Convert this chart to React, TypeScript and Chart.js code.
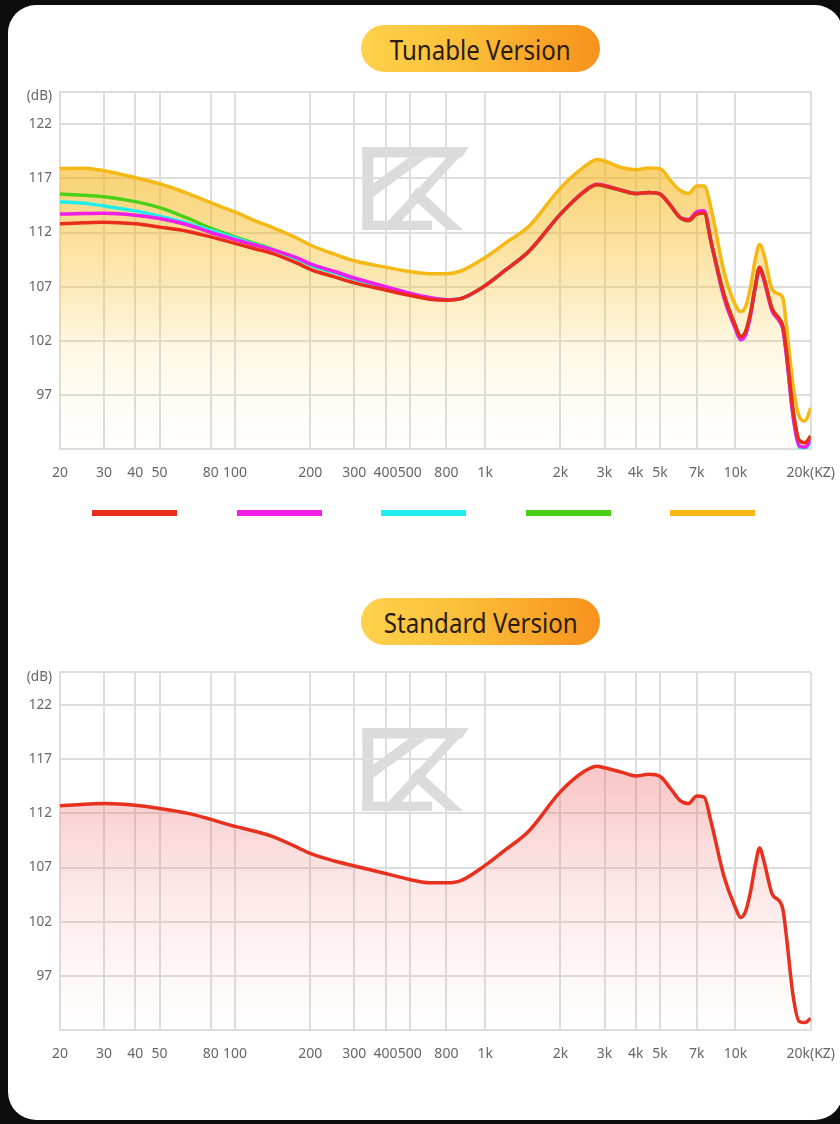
import React, { useEffect, useRef } from 'react';
import { Chart, registerables } from 'chart.js';

Chart.register(...registerables);

// Frequency points (Hz)
const FREQS = [20, 25, 30, 40, 50, 65, 80, 100, 120, 140, 180, 200, 250, 300, 400, 500, 600, 700, 800, 1000, 1200, 1500, 2000, 2500, 2800, 3000, 3500, 4000, 4500, 5000, 5500, 6000, 6500, 7000, 7500, 8000, 9000, 10000, 10500, 11000, 11500, 12000, 12500, 13000, 14000, 15000, 15500, 16000, 17000, 18000, 19000, 20000];

// Tunable version (dB)
const RED = [112.8, 112.9, 112.95, 112.8, 112.5, 112.1, 111.6, 111.0, 110.5, 110.1, 109.1, 108.6, 107.9, 107.35, 106.7, 106.2, 105.85, 105.75, 105.9, 107.1, 108.5, 110.3, 113.7, 115.8, 116.4, 116.3, 115.9, 115.6, 115.7, 115.55, 114.5, 113.4, 113.1, 113.7, 113.8, 111.1, 106.3, 103.4, 102.4, 102.9, 104.6, 107.0, 108.8, 107.8, 105.0, 104.0, 103.3, 101.0, 95.6, 92.8, 92.6, 93.2];
const MAGENTA = [113.7, 113.75, 113.78, 113.6, 113.3, 112.7, 112.0, 111.35, 110.85, 110.45, 109.6, 109.1, 108.4, 107.8, 107.0, 106.4, 106.0, 105.8, 105.9, 107.1, 108.5, 110.3, 113.7, 115.85, 116.45, 116.35, 115.9, 115.6, 115.7, 115.55, 114.5, 113.4, 113.2, 113.9, 114.0, 111.1, 106.0, 103.1, 102.1, 102.6, 104.4, 106.9, 108.6, 107.6, 104.8, 103.8, 103.0, 100.6, 95.0, 92.3, 92.2, 92.9];
const CYAN = [114.85, 114.7, 114.45, 114.0, 113.5, 112.85, 112.2, 111.5, 110.9, 110.45, 109.5, 109.0, 108.3, 107.7, 106.95, 106.35, 105.95, 105.8, 105.9, 107.1, 108.5, 110.3, 113.7, 115.8, 116.4, 116.3, 115.9, 115.6, 115.7, 115.55, 114.5, 113.4, 113.1, 113.8, 113.9, 111.1, 106.1, 103.2, 102.2, 102.7, 104.5, 106.9, 108.7, 107.7, 104.9, 103.9, 103.1, 100.7, 95.2, 92.2, 92.0, 92.8];
const GREEN = [115.55, 115.45, 115.3, 114.85, 114.3, 113.3, 112.4, 111.6, 111.0, 110.5, 109.5, 109.0, 108.3, 107.7, 106.95, 106.3, 105.9, 105.8, 105.9, 107.1, 108.5, 110.3, 113.7, 115.8, 116.4, 116.3, 115.9, 115.6, 115.7, 115.55, 114.5, 113.4, 113.1, 113.7, 113.8, 111.1, 106.3, 103.4, 102.4, 102.9, 104.6, 107.0, 108.8, 107.8, 105.0, 104.0, 103.3, 101.0, 95.6, 92.8, 92.6, 93.2];
const YELLOW = [117.9, 117.93, 117.7, 117.06, 116.5, 115.6, 114.76, 113.9, 113.1, 112.5, 111.4, 110.85, 110.0, 109.4, 108.8, 108.4, 108.2, 108.2, 108.45, 109.7, 111.0, 112.6, 116.1, 118.1, 118.75, 118.6, 118.0, 117.8, 117.95, 117.9, 116.8, 115.9, 115.6, 116.3, 116.3, 114.2, 108.4, 105.3, 104.7, 105.2, 107.0, 109.5, 110.9, 110.0, 106.8, 106.3, 105.9, 103.4, 97.9, 95.0, 94.6, 95.8];

// Standard version (dB)
const STANDARD = [112.7, 112.85, 112.9, 112.75, 112.45, 112.0, 111.45, 110.8, 110.35, 109.9, 108.8, 108.3, 107.6, 107.15, 106.45, 105.9, 105.6, 105.6, 105.8, 107.2, 108.6, 110.4, 114.0, 115.9, 116.35, 116.2, 115.8, 115.45, 115.6, 115.4, 114.3, 113.2, 112.9, 113.6, 113.5, 111.2, 106.2, 103.3, 102.4, 103.0, 104.8, 107.2, 108.8, 107.6, 104.6, 103.9, 103.1, 100.6, 95.2, 92.8, 92.7, 93.1];

const SERIES_NAMES = ['Tuning 1', 'Tuning 2', 'Tuning 3', 'Tuning 4', 'Tuning 5'];
const SERIES_COLORS = ['#ea2c1b', '#f01ee6', '#20eeee', '#4ccf17', '#f5b814'];

const X_TICKS = [20, 30, 40, 50, 80, 100, 200, 300, 400, 500, 700, 1000, 2000, 3000, 4000, 5000, 7000, 10000, 20000];
const X_TICK_LABELS = ['20', '30', '40', '50', '80', '100', '200', '300', '400', '500', '800', '1k', '2k', '3k', '4k', '5k', '7k', '10k', '20k(KZ)'];
const Y_TICKS = [92, 97, 102, 107, 112, 117, 122, 124.6, 125];
const Y_TICK_LABELS = ['', '97', '102', '107', '112', '117', '122', '(dB)', ''];

const TITLES = ['Tunable Version', 'Standard Version'];

const GRID = '#dddddd';
const FONT = "'Noto Sans', 'DejaVu Sans', sans-serif";
const CANVAS_W = 850;
const CANVAS_H = 421;

function series(values: number[]) {
  return FREQS.map((f, i) => ({ x: f, y: values[i] }));
}

function gradientFill(stops: [number, string][]) {
  return (ctx: any) => {
    const chart = ctx.chart;
    const area = chart.chartArea;
    if (!area) return 'rgba(0,0,0,0)';
    const g = chart.ctx.createLinearGradient(0, area.top, 0, area.bottom);
    stops.forEach(([o, c]) => g.addColorStop(o, c));
    return g;
  };
}

function buildOptions(padTop: number): any {
  return {
    responsive: false,
    animation: false,
    events: [],
    layout: { padding: { top: padTop, right: 0, bottom: 0, left: 0 } },
    plugins: { legend: { display: false }, tooltip: { enabled: false }, title: { display: false } },
    elements: {
      point: { radius: 0, hoverRadius: 0 },
      line: { borderWidth: 3.5, cubicInterpolationMode: 'monotone', capStyle: 'round', joinStyle: 'round' },
    },
    scales: {
      x: {
        type: 'logarithmic',
        min: 20,
        max: 20000,
        afterBuildTicks: (s: any) => {
          s.ticks = X_TICKS.map((v) => ({ value: v }));
        },
        ticks: {
          autoSkip: false,
          maxRotation: 0,
          minRotation: 0,
          padding: 15,
          color: '#666',
          font: { family: FONT, size: 14 },
          callback: (_v: any, i: number) => X_TICK_LABELS[i],
        },
        grid: { color: GRID, lineWidth: 2, drawTicks: false },
        border: { color: GRID, width: 2 },
      },
      y: {
        type: 'linear',
        min: 92,
        max: 125,
        afterBuildTicks: (s: any) => {
          s.ticks = Y_TICKS.map((v) => ({ value: v }));
        },
        afterFit: (s: any) => {
          s.width = 60;
        },
        ticks: {
          padding: 8,
          color: '#666',
          font: { family: FONT, size: 13.5 },
          callback: (_v: any, i: number) => Y_TICK_LABELS[i],
        },
        grid: {
          color: (c: any) => (c.tick && c.tick.value === 124.6 ? 'rgba(0,0,0,0)' : GRID),
          lineWidth: 2,
          drawTicks: false,
        },
        border: { color: GRID, width: 2 },
      },
    },
  };
}

function FrChart({ datasets, top, padTop }: { datasets: any[]; top: number; padTop: number }) {
  const ref = useRef<HTMLCanvasElement>(null);
  useEffect(() => {
    const chart = new Chart(ref.current as HTMLCanvasElement, {
      type: 'line',
      data: { datasets },
      options: buildOptions(padTop),
    });
    return () => chart.destroy();
  }, []);
  return (
    <canvas
      ref={ref}
      width={CANVAS_W}
      height={CANVAS_H}
      style={{ position: 'absolute', left: 0, top, width: CANVAS_W, height: CANVAS_H }}
    />
  );
}

function Pill({ text, top }: { text: string; top: number }) {
  return (
    <div
      style={{
        position: 'absolute',
        left: 361,
        top,
        width: 239,
        height: 47,
        borderRadius: 24,
        background: 'linear-gradient(90deg, #fdd24c 0%, #fbbd38 45%, #f7911d 100%)',
        display: 'flex',
        alignItems: 'center',
        justifyContent: 'center',
      }}
    >
      <span
        style={{
          fontFamily: "'Noto Sans', sans-serif",
          fontSize: 28,
          color: '#2a1c0c',
          transform: 'scaleX(0.86)',
          whiteSpace: 'nowrap',
          lineHeight: 1,
        }}
      >
        {text}
      </span>
    </div>
  );
}

function Watermark({ top }: { top: number }) {
  return (
    <svg
      style={{ position: 'absolute', left: 362, top, width: 107, height: 83 }}
      viewBox="95 50 320 250"
    >
      <g fill="#8c8c8c" opacity={0.3}>
        <polygon points="95,50 415,50 395,82 95,82" />
        <polygon points="95,50 128,50 128,300 95,300" />
        <polygon points="128,160 235,82 290,82 128,200" />
        <polygon points="378,50 415,50 188,300 148,300" />
        <polygon points="238,198 260,172 398,300 352,300" />
        <polygon points="95,272 305,272 305,300 95,300" />
      </g>
    </svg>
  );
}

export default function App() {
  const tunable = [RED, MAGENTA, CYAN, GREEN, YELLOW].map((vals, i) => ({
    label: SERIES_NAMES[i],
    data: series(vals),
    borderColor: SERIES_COLORS[i],
    backgroundColor:
      i === 4
        ? gradientFill([
            [0, 'rgba(245,181,25,0.72)'],
            [0.25, 'rgba(245,181,25,0.58)'],
            [0.55, 'rgba(247,190,40,0.33)'],
            [0.72, 'rgba(250,200,60,0.14)'],
            [1, 'rgba(255,220,120,0.0)'],
          ])
        : SERIES_COLORS[i],
    fill: i === 4 ? 'start' : false,
  }));

  const standard = [
    {
      label: 'Standard',
      data: series(STANDARD),
      borderColor: '#e8301e',
      backgroundColor: gradientFill([
        [0, 'rgba(236,90,90,0.42)'],
        [0.3, 'rgba(236,90,90,0.33)'],
        [0.6, 'rgba(238,110,110,0.17)'],
        [1, 'rgba(245,150,150,0.0)'],
      ]),
      fill: 'start',
    },
  ];

  return (
    <div style={{ position: 'absolute', left: 0, top: 0, width: 840, height: 1124, background: '#0c0c0c', overflow: 'hidden' }}>
      <div style={{ position: 'absolute', left: 8, top: 5, width: 835, height: 1115, background: '#ffffff', borderRadius: 28 }} />
      <Pill text={TITLES[0]} top={25} />
      <Watermark top={147} />
      <FrChart datasets={tunable} top={75} padTop={16.7} />
      <div style={{ position: 'absolute', left: 92, top: 510, display: 'flex', gap: 59.5 }}>
        {SERIES_COLORS.map((c, i) => (
          <div key={i} title={SERIES_NAMES[i]} style={{ width: 85, height: 6, background: c }} />
        ))}
      </div>
      <Pill text={TITLES[1]} top={598} />
      <Watermark top={728} />
      <FrChart datasets={standard} top={656} padTop={16.4} />
    </div>
  );
}
